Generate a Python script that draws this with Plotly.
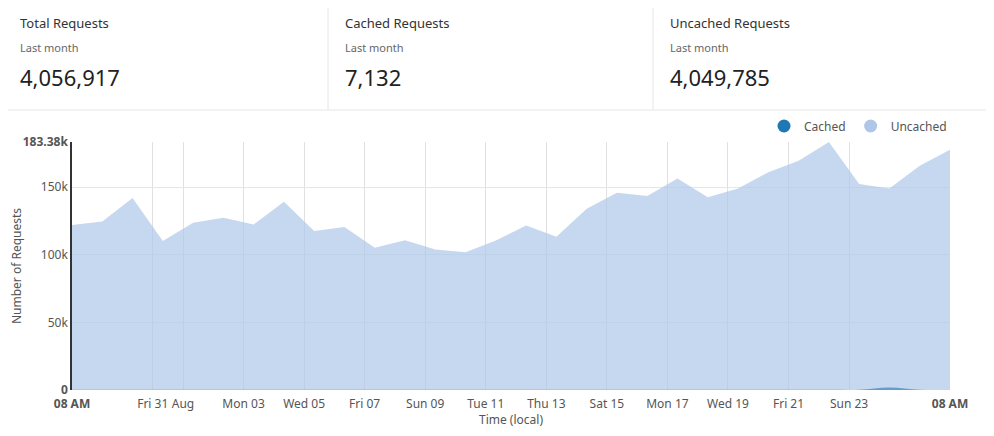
import plotly.graph_objs as go
import pandas as pd

# daily samples, Tue 28 Aug 2018 08:00 -> Wed 26 Sep 2018 08:00
days = pd.date_range("2018-08-28 08:00", periods=30, freq="D")

uncached = [122000, 124600, 141900, 110200, 123600, 127300, 122400, 139200, 117600, 120500,
            105100, 110700, 103900, 101900, 110500, 121700, 113400, 134100, 145800, 143400,
            156400, 142500, 149000, 161000, 169500, 183380, 152400, 149000, 165900, 177600]
cached = [180, 170, 190, 160, 170, 180, 170, 190, 160, 170,
          150, 160, 150, 140, 160, 170, 160, 180, 190, 190,
          200, 190, 190, 200, 210, 220, 200, 1900, 150, 0]

card_titles = ["Total Requests", "Cached Requests", "Uncached Requests"]
card_sub = "Last month"
card_values = ["4,056,917", "7,132", "4,049,785"]

tick_vals = ["2018-08-28 08:00", "2018-08-31", "2018-09-01", "2018-09-03", "2018-09-05",
             "2018-09-07", "2018-09-09", "2018-09-11", "2018-09-13", "2018-09-15",
             "2018-09-17", "2018-09-19", "2018-09-21", "2018-09-23", "2018-09-26 08:00"]
tick_text = ["<b>08 AM</b>", "Fri 31", "Aug", "Mon 03", "Wed 05", "Fri 07", "Sun 09",
             "Tue 11", "Thu 13", "Sat 15", "Mon 17", "Wed 19", "Fri 21", "Sun 23", "<b>08 AM</b>"]
y_vals = [0, 50000, 100000, 150000, 183380]
y_text = ["<b>0</b>", "50k", "100k", "150k", "<b>183.38k</b>"]

FONT = "Noto Sans"
OFF = 8  # page body margin in the browser
W, H = 978, 420
# plot area in page pixels: x 72..950, y 142..390
L, R, T, B = 72 - OFF, W - (950 - OFF), 142 - OFF, H - (390 - OFF)
PW, PH = W - L - R, H - T - B


def px(x):
    # page pixel -> paper x
    return (x - OFF - L) / PW


def py(y):
    # page pixel -> paper y
    return (H - B - (y - OFF)) / PH


fig = go.Figure([
    go.Scatter(
        x=days, y=uncached, mode="lines", fill="tozeroy",
        line=dict(width=0, color="rgba(174,199,232,0.7)"),
        fillcolor="rgba(174,199,232,0.7)", showlegend=False, hoverinfo="skip",
    ),
    go.Scatter(
        x=days, y=cached, mode="lines", fill="tozeroy", line_shape="spline",
        line=dict(width=0, color="rgba(31,119,180,0.6)"),
        fillcolor="rgba(31,119,180,0.6)", showlegend=False, hoverinfo="skip",
    ),
    # legend entries (circle markers)
    go.Scatter(x=[None], y=[None], mode="markers", name="Cached",
               marker=dict(symbol="circle", size=13, color="rgb(31,119,180)")),
    go.Scatter(x=[None], y=[None], mode="markers", name="Uncached",
               marker=dict(symbol="circle", size=13, color="rgb(174,199,232)")),
])

shapes = [
    dict(type="line", xref="paper", yref="paper", x0=px(OFF), x1=px(OFF + W), y0=py(110), y1=py(110),
         line=dict(color="#e6e6e6", width=1)),
    dict(type="line", xref="paper", yref="paper", x0=px(328), x1=px(328), y0=py(OFF), y1=py(110),
         line=dict(color="#e6e6e6", width=1)),
    dict(type="line", xref="paper", yref="paper", x0=px(653), x1=px(653), y0=py(OFF), y1=py(110),
         line=dict(color="#e6e6e6", width=1)),
]

annotations = []
for i, left in enumerate([20, 345, 670]):
    annotations.append(dict(xref="paper", yref="paper", x=px(left - 2), y=py(23), xanchor="left",
                            yanchor="middle", showarrow=False, text=card_titles[i],
                            font=dict(family=FONT, size=13, color="#333")))
    annotations.append(dict(xref="paper", yref="paper", x=px(left - 2), y=py(47), xanchor="left",
                            yanchor="middle", showarrow=False, text=card_sub,
                            font=dict(family=FONT, size=11, color="#666")))
    annotations.append(dict(xref="paper", yref="paper", x=px(left - 2), y=py(77), xanchor="left",
                            yanchor="middle", showarrow=False, text=card_values[i],
                            font=dict(family=FONT, size=22, color="#222")))

fig.update_layout(
    width=W,
    height=H,
    margin=dict(l=L, r=R, t=T, b=B, pad=0),
    paper_bgcolor="white",
    plot_bgcolor="white",
    font=dict(family=FONT, size=12, color="#555"),
    shapes=shapes,
    annotations=annotations,
    legend=dict(orientation="h", x=px(764), y=py(126), xanchor="left", yanchor="middle",
                font=dict(family=FONT, size=12, color="#555"), itemwidth=30,
                tracegroupgap=0),
    xaxis=dict(
        range=[days[0], days[-1]], automargin=False,
        tickmode="array", tickvals=tick_vals, ticktext=tick_text,
        showgrid=True, gridcolor="#e0e0e0", gridwidth=1,
        showline=False, zeroline=False, ticks="", ticklabelstandoff=5,
        tickfont=dict(family=FONT, size=12, color="#555"),
        title=dict(text="Time (local)", font=dict(family=FONT, size=12, color="#555"), standoff=7),
    ),
    yaxis=dict(
        range=[0, 183380], automargin=False,
        tickmode="array", tickvals=y_vals, ticktext=y_text,
        showgrid=True, gridcolor="#e6e6e6", gridwidth=1,
        showline=True, linecolor="#333", linewidth=1.5, zeroline=False, ticks="",
        tickfont=dict(family=FONT, size=12, color="#555"),
        title=dict(text="Number of Requests", font=dict(family=FONT, size=12, color="#555"), standoff=5),
    ),
)

fig.write_html("out.html")
